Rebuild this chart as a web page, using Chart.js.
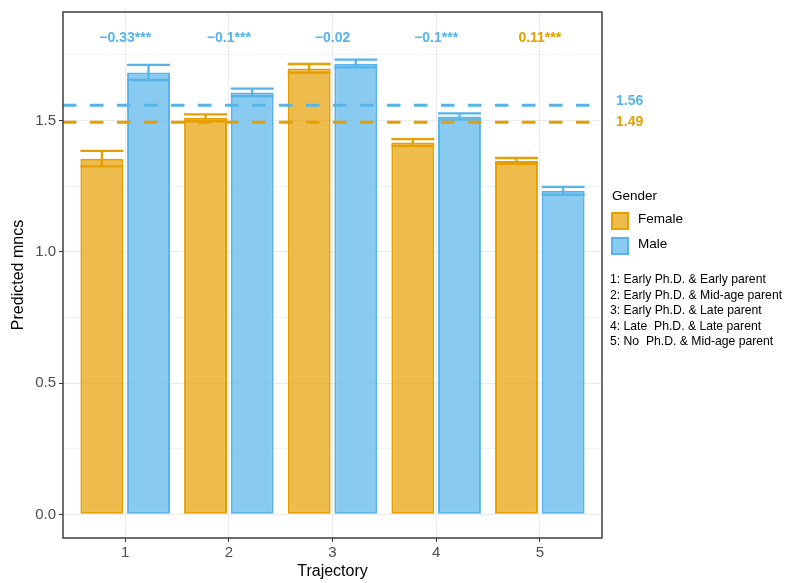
<!DOCTYPE html>
<html>
<head>
<meta charset="utf-8">
<script src="https://cdn.jsdelivr.net/npm/chart.js@4"></script>
<style>
  html, body { margin: 0; padding: 0; background: #fff; }
  #wrap { width: 785px; height: 583px; }
</style>
</head>
<body>
<div id="wrap"><canvas id="chart" width="785" height="583"></canvas></div>
<script>
// data
const trajectories = [1, 2, 3, 4, 5];
const femaleMean = [1.354, 1.510, 1.698, 1.416, 1.346];
const femaleLow = [1.325, 1.497, 1.682, 1.403, 1.335];
const femaleHigh = [1.384, 1.523, 1.715, 1.429, 1.357];
const maleMean = [1.683, 1.606, 1.716, 1.515, 1.232];
const maleLow = [1.654, 1.593, 1.702, 1.503, 1.217];
const maleHigh = [1.712, 1.621, 1.732, 1.527, 1.247];
const diffLabels = ['\u22120.33***', '\u22120.1***', '\u22120.02', '\u22120.1***', '0.11***'];
const diffGender = ['Male', 'Male', 'Male', 'Male', 'Female'];
const meanLines = [1.558, 1.493];
const meanLabels = ['1.56', '1.49'];
const meanGender = ['Male', 'Female'];
const yTicks = [0, 0.25, 0.5, 0.75, 1, 1.25, 1.5, 1.75];
const trajectoryNotes = [
    '1: Early Ph.D. & Early parent',
    '2: Early Ph.D. & Mid-age parent',
    '3: Early Ph.D. & Late parent',
    '4: Late  Ph.D. & Late parent',
    '5: No  Ph.D. & Mid-age parent'
];

const colors = {
    Female: { line: '#E69F00', fill: 'rgba(230, 159, 0, 0.7)' },
    Male: { line: '#56B4E9', fill: 'rgba(86, 180, 233, 0.7)' }
};
const FONT = '"Liberation Sans", Arial, sans-serif';

const overlay = {
    id: 'overlay',
    afterDatasetsDraw(chart) {
        const ctx = chart.ctx;
        const area = chart.chartArea;
        const y = chart.scales.y;
        const x = chart.scales.x;

        // error bars
        const ci = [[femaleLow, femaleHigh, 'Female'], [maleLow, maleHigh, 'Male']];
        ci.forEach(([low, high, g], di) => {
            const meta = chart.getDatasetMeta(di);
            meta.data.forEach((bar, i) => {
                const half = bar.width / 2;
                const yl = y.getPixelForValue(low[i]);
                const yh = y.getPixelForValue(high[i]);
                ctx.save();
                ctx.strokeStyle = colors[g].line;
                ctx.lineWidth = 2.3;
                ctx.beginPath();
                ctx.moveTo(bar.x - half, yh); ctx.lineTo(bar.x + half, yh);
                ctx.moveTo(bar.x - half, yl); ctx.lineTo(bar.x + half, yl);
                ctx.moveTo(bar.x, yl); ctx.lineTo(bar.x, yh);
                ctx.stroke();
                ctx.restore();
            });
        });

        // mean lines, labels pushed apart a little like ggrepel does
        meanLines.forEach((v, i) => {
            const py = y.getPixelForValue(v);
            ctx.save();
            ctx.strokeStyle = colors[meanGender[i]].line;
            ctx.lineWidth = 3;
            ctx.setLineDash([13.5, 13.5]);
            ctx.beginPath();
            ctx.moveTo(area.left, py);
            ctx.lineTo(area.right, py);
            ctx.stroke();
            ctx.restore();

            ctx.save();
            ctx.fillStyle = colors[meanGender[i]].line;
            ctx.font = 'bold 14px ' + FONT;
            ctx.textBaseline = 'middle';
            ctx.textAlign = 'left';
            ctx.fillText(meanLabels[i], area.right + 14, py + (i === 0 ? -4 : 0));
            ctx.restore();
        });

        // difference labels
        trajectories.forEach((t, i) => {
            ctx.save();
            ctx.fillStyle = colors[diffGender[i]].line;
            ctx.font = 'bold 14px ' + FONT;
            ctx.textBaseline = 'middle';
            ctx.textAlign = 'center';
            ctx.fillText(diffLabels[i], x.getPixelForValue(t), y.getPixelForValue(1.814));
            ctx.restore();
        });

        // panel border
        ctx.save();
        ctx.strokeStyle = '#333333';
        ctx.lineWidth = 1.4;
        ctx.strokeRect(area.left, area.top, area.right - area.left, area.bottom - area.top);
        ctx.restore();
    },
    afterDraw(chart) {
        const ctx = chart.ctx;
        const lx = 611;
        ctx.save();
        ctx.fillStyle = '#000';
        ctx.font = '13.5px ' + FONT;
        ctx.textBaseline = 'middle';
        ctx.textAlign = 'left';
        ctx.fillText('Gender', 612, 196);
        ['Female', 'Male'].forEach((g, i) => {
            const top = 212 + i * 25;
            ctx.fillStyle = '#fff';
            ctx.fillRect(lx, top, 18, 18);
            ctx.fillStyle = colors[g].fill;
            ctx.fillRect(lx, top, 18, 18);
            ctx.strokeStyle = colors[g].line;
            ctx.lineWidth = 2;
            ctx.strokeRect(lx + 1, top + 1, 16, 16);
            ctx.fillStyle = '#000';
            ctx.fillText(g, 638, top + 7);
        });
        ctx.font = '12.2px ' + FONT;
        trajectoryNotes.forEach((s, i) => {
            ctx.fillText(s, 610, 280 + i * 15.5);
        });
        ctx.restore();
    }
};

new Chart(document.getElementById('chart'), {
    type: 'bar',
    data: {
        datasets: [
            {
                label: 'Female',
                data: trajectories.map((t, i) => ({ x: t, y: femaleMean[i] })),
                backgroundColor: colors.Female.fill,
                borderColor: colors.Female.line,
                borderWidth: 2,
                borderSkipped: false
            },
            {
                label: 'Male',
                data: trajectories.map((t, i) => ({ x: t, y: maleMean[i] })),
                backgroundColor: colors.Male.fill,
                borderColor: colors.Male.line,
                borderWidth: 2,
                borderSkipped: false
            }
        ]
    },
    options: {
        responsive: false,
        animation: false,
        events: [],
        categoryPercentage: 0.9,
        barPercentage: 0.92,
        layout: { padding: { top: 11, right: 183, left: 0, bottom: 0 } },
        plugins: {
            legend: { display: false },
            tooltip: { enabled: false }
        },
        scales: {
            x: {
                type: 'linear',
                min: 0.4,
                max: 5.6,
                offset: false,
                afterBuildTicks: axis => { axis.ticks = trajectories.map(v => ({ value: v })); },
                afterFit: axis => { axis.height = 45; },
                border: { display: false },
                grid: { offset: false, color: '#EBEBEB', lineWidth: 1, tickLength: 4, tickColor: '#333333' },
                ticks: {
                    color: '#4D4D4D',
                    font: { family: FONT, size: 15 },
                    padding: 2,
                    callback: v => String(v)
                },
                title: {
                    display: true,
                    text: 'Trajectory',
                    color: '#000',
                    font: { family: FONT, size: 16 },
                    padding: { top: 0, bottom: 1.5 }
                }
            },
            y: {
                min: -0.09,
                max: 1.913,
                afterBuildTicks: axis => { axis.ticks = yTicks.map(v => ({ value: v })); },
                afterFit: axis => { axis.width = 63; },
                border: { display: false },
                grid: {
                    color: '#EBEBEB',
                    lineWidth: ctx => (ctx.tick && ctx.tick.value % 0.5 === 0 ? 1 : 0.6),
                    tickLength: 4,
                    tickColor: ctx => (ctx.tick && ctx.tick.value % 0.5 === 0 ? '#333333' : 'rgba(0,0,0,0)')
                },
                ticks: {
                    color: '#4D4D4D',
                    font: { family: FONT, size: 15 },
                    padding: 3,
                    callback: v => (v % 0.5 === 0 ? v.toFixed(1) : '')
                },
                title: {
                    display: true,
                    text: 'Predicted mncs',
                    color: '#000',
                    font: { family: FONT, size: 16 },
                    padding: { top: 8.5, bottom: 0 }
                }
            }
        }
    },
    plugins: [overlay]
});
</script>
</body>
</html>
